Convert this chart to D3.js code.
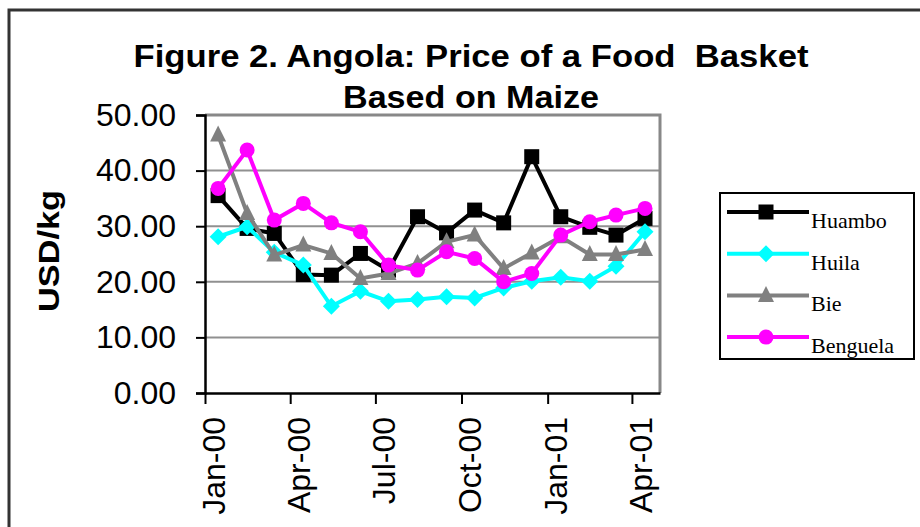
<!DOCTYPE html>
<meta charset="utf-8">
<style>
  body { margin: 0; background: #fff; }
</style>
<body>
<script src="https://cdnjs.cloudflare.com/ajax/libs/d3/7.8.5/d3.min.js"></script>
<svg></svg>
<script>
    // monthly observations, Jan-00 .. Apr-01
    var months = ["2000-01","2000-02","2000-03","2000-04","2000-05","2000-06","2000-07","2000-08",
                  "2000-09","2000-10","2000-11","2000-12","2001-01","2001-02","2001-03","2001-04"];
    var huambo   = [35.5, 29.6, 28.7, 21.3, 21.2, 25.1, 22.1, 31.7, 28.8, 32.9, 30.6, 42.5, 31.7, 29.8, 28.4, 31.4];
    var huila    = [28.1, 29.9, 25.3, 23.0, 15.6, 18.3, 16.5, 16.8, 17.3, 17.1, 18.9, 20.1, 20.8, 20.1, 22.8, 29.0];
    var bie      = [46.4, 32.3, 24.8, 26.6, 25.1, 20.6, 21.5, 23.3, 27.2, 28.4, 22.4, 25.2, 28.1, 24.9, 24.9, 25.8];
    var benguela = [36.8, 43.7, 31.1, 34.1, 30.6, 29.0, 23.0, 22.1, 25.4, 24.2, 20.0, 21.5, 28.4, 30.8, 32.0, 33.2];
    var yTicks = [0, 10, 20, 30, 40, 50];

    var series = [
        {name: "Huambo",   values: huambo,   color: "#000000", shape: "square"},
        {name: "Huila",    values: huila,    color: "#00ffff", shape: "diamond"},
        {name: "Bie",      values: bie,      color: "#808080", shape: "triangle"},
        {name: "Benguela", values: benguela, color: "#ff00ff", shape: "circle"}
    ];

    var width = 920, height = 527;
    var plotL = 205, plotT = 115, plotR = 660, plotB = 393;

    var svg = d3.select("svg")
        .attr("width", width)
        .attr("height", height)
        .style("display", "block");

    // outer frame (only top and left are visible in the picture)
    svg.append("path")
        .attr("d", "M9,527V10H920")
        .attr("fill", "none")
        .attr("stroke", "#333")
        .attr("stroke-width", 3);

    var parse = d3.timeParse("%Y-%m-%d");
    var dates = months.map(function(m){ return parse(m + "-15"); });

    var x = d3.scaleTime()
        .domain([parse("2000-01-01"), parse("2001-05-01")])
        .range([plotL, plotR]);
    var y = d3.scaleLinear()
        .domain([0, 50])
        .range([plotB, plotT]);

    // title
    var title = svg.append("text")
        .attr("text-anchor", "middle")
        .style("white-space", "pre")
        .style("font-family", "Liberation Sans, Arial, sans-serif")
        .style("font-weight", "bold")
        .style("font-size", "31px");
    title.append("tspan").attr("x", 471).attr("y", 67)
        .attr("textLength", 675).attr("lengthAdjust", "spacingAndGlyphs")
        .text("Figure 2. Angola: Price of a Food  Basket");
    title.append("tspan").attr("x", 471).attr("y", 108)
        .attr("textLength", 256).attr("lengthAdjust", "spacingAndGlyphs")
        .text("Based on Maize");

    // gridlines
    svg.append("g").selectAll("line")
        .data(yTicks.filter(function(d){ return d > 0 && d < 50; }))
        .enter().append("line")
        .attr("x1", plotL).attr("x2", plotR)
        .attr("y1", function(d){ return y(d); })
        .attr("y2", function(d){ return y(d); })
        .attr("stroke", "#909090")
        .attr("stroke-width", 2);

    // plot border: gray top + right
    svg.append("path")
        .attr("d", "M" + plotL + "," + plotT + "H" + plotR + "V" + plotB)
        .attr("fill", "none")
        .attr("stroke", "#888")
        .attr("stroke-width", 3);

    // y axis
    var yAxis = svg.append("g")
        .attr("transform", "translate(" + plotL + ",0)")
        .call(d3.axisLeft(y).tickValues(yTicks).tickFormat(d3.format(".2f")).tickSize(9).tickPadding(20));
    yAxis.select(".domain").attr("stroke-width", 2.5);
    yAxis.selectAll(".tick line").attr("stroke-width", 2);
    yAxis.selectAll("text")
        .style("font-family", "Liberation Sans, Arial, sans-serif")
        .style("font-size", "32px")
        .attr("fill", "#000");

    // x axis
    var xAxis = svg.append("g")
        .attr("transform", "translate(0," + plotB + ")")
        .call(d3.axisBottom(x).ticks(d3.timeMonth.every(3)).tickFormat(d3.timeFormat("%b-%y")).tickSize(11).tickSizeOuter(0));
    xAxis.select(".domain").attr("stroke-width", 2.5);
    xAxis.selectAll(".tick line").attr("stroke-width", 2);
    xAxis.selectAll("text")
        .style("font-family", "Liberation Sans, Arial, sans-serif")
        .style("font-size", "32px")
        .attr("fill", "#000")
        .attr("text-anchor", "end")
        .attr("transform", "rotate(-90)")
        .attr("x", -24)
        .attr("y", 8)
        .attr("dy", "0.35em");

    // y axis title
    svg.append("text")
        .attr("transform", "translate(59,251) rotate(-90)")
        .attr("text-anchor", "middle")
        .attr("textLength", 122).attr("lengthAdjust", "spacingAndGlyphs")
        .style("font-family", "Liberation Sans, Arial, sans-serif")
        .style("font-weight", "bold")
        .style("font-size", "29px")
        .text("USD/kg");

    function marker(sel, shape, color) {
        if (shape === "circle") {
            sel.append("circle").attr("r", 7.5).attr("fill", color);
        } else if (shape === "square") {
            sel.append("rect").attr("x", -7.5).attr("y", -7.5).attr("width", 15).attr("height", 15).attr("fill", color);
        } else if (shape === "diamond") {
            sel.append("path").attr("d", "M0,-8.5L8.5,0L0,8.5L-8.5,0Z").attr("fill", color);
        } else {
            sel.append("path").attr("d", "M0,-9.5L8,6.5L-8,6.5Z").attr("fill", color);
        }
    }

    var line = d3.line()
        .x(function(d, i){ return x(dates[i]); })
        .y(function(d){ return y(d); });

    series.forEach(function(s) {
        var g = svg.append("g");
        g.append("path")
            .attr("d", line(s.values))
            .attr("fill", "none")
            .attr("stroke", s.color)
            .attr("stroke-width", 4);
        g.selectAll("g.pt")
            .data(s.values)
            .enter().append("g")
            .attr("class", "pt")
            .attr("transform", function(d, i){ return "translate(" + x(dates[i]) + "," + y(d) + ")"; })
            .each(function(){ marker(d3.select(this), s.shape, s.color); });
    });

    // legend
    var legend = svg.append("g");
    legend.append("rect")
        .attr("x", 720).attr("y", 193)
        .attr("width", 194).attr("height", 166)
        .attr("fill", "#fff")
        .attr("stroke", "#000")
        .attr("stroke-width", 2);
    series.forEach(function(s, i) {
        var ly = 212 + i * 41.7;
        var row = legend.append("g");
        row.append("line")
            .attr("x1", 727).attr("x2", 809)
            .attr("y1", ly).attr("y2", ly)
            .attr("stroke", s.color)
            .attr("stroke-width", 4);
        var m = row.append("g").attr("transform", "translate(766," + ly + ")");
        marker(m, s.shape, s.color);
        row.append("text")
            .attr("x", 811).attr("y", ly + 16)
            .style("font-family", "Liberation Serif, Times New Roman, serif")
            .style("font-size", "22px")
            .text(s.name);
    });
</script>
</body>
